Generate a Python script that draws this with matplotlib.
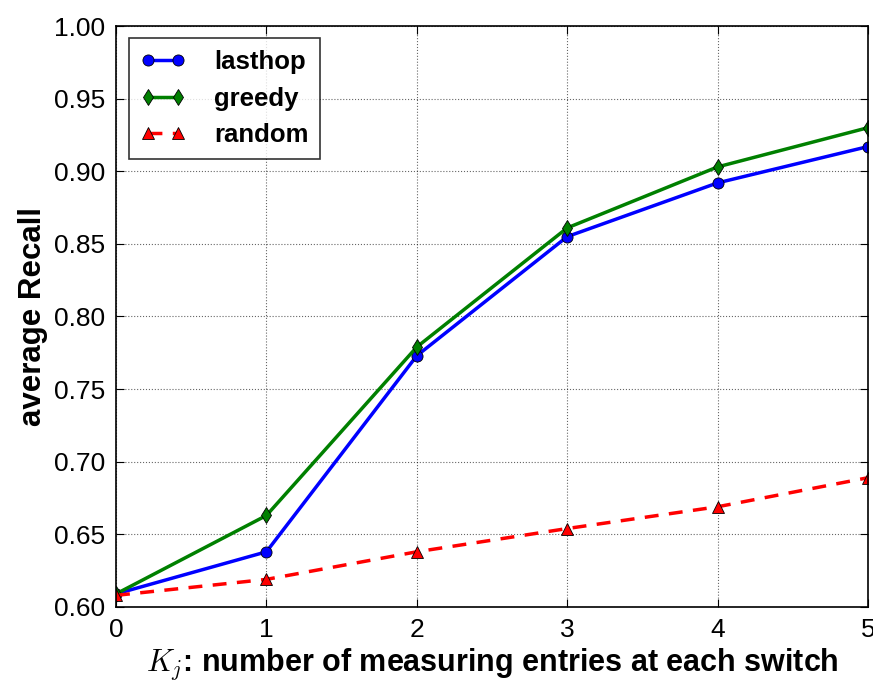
import matplotlib
matplotlib.use("Agg")
import matplotlib.pyplot as plt

k_values = [0, 1, 2, 3, 4, 5]
lasthop = [0.609, 0.638, 0.773, 0.855, 0.892, 0.917]
greedy = [0.609, 0.663, 0.779, 0.861, 0.903, 0.930]
random_ = [0.608, 0.619, 0.638, 0.654, 0.669, 0.689]
yticks = [0.60, 0.65, 0.70, 0.75, 0.80, 0.85, 0.90, 0.95, 1.00]

plt.rcParams['font.family'] = ['Liberation Sans', 'DejaVu Sans']
plt.rcParams['mathtext.fontset'] = 'cm'

fig = plt.figure(figsize=(8.73, 6.81), dpi=100)
ax = fig.add_axes([0.1329, 0.1087, 0.8614, 0.8531])

ax.plot(k_values, lasthop, color='blue', marker='o', lw=2.5, ms=8,
        markeredgecolor='black', markeredgewidth=0.6, label='lasthop')
ax.plot(k_values, greedy, color='green', marker='d', lw=2.5, ms=8,
        markeredgecolor='black', markeredgewidth=0.6, label='greedy')
ax.plot(k_values, random_, color='red', marker='^', lw=2.5, ms=8, ls='--',
        dashes=(4, 3), markeredgecolor='black', markeredgewidth=0.6, label='random')

ax.set_xlim(0, 5)
ax.set_ylim(0.60, 1.00)
ax.set_xticks(k_values)
ax.set_yticks(yticks)
ax.set_yticklabels([f"{v:.2f}" for v in yticks])
ax.grid(True, color='black', ls=':', lw=0.8, alpha=0.6)
ax.tick_params(direction='in', top=True, right=True, labelsize=19, length=6, pad=8)
for s in ax.spines.values():
    s.set_linewidth(1.2)

ax.set_ylabel('average Recall', fontsize=22.5, fontweight='bold', labelpad=4)
ax.set_xlabel(r'$K_j$: number of measuring entries at each switch', fontsize=22,
              fontweight='bold', labelpad=3)

leg = ax.legend(loc='upper left', bbox_to_anchor=(0.0173, 0.979), borderaxespad=0,
                fancybox=False, edgecolor='black', prop={'weight': 'bold', 'size': 18.5},
                numpoints=2, handlelength=1.75, handletextpad=1.1, borderpad=0.45,
                labelspacing=0.5)
leg.get_frame().set_linewidth(1.2)

fig.savefig('out.png', dpi=100)
